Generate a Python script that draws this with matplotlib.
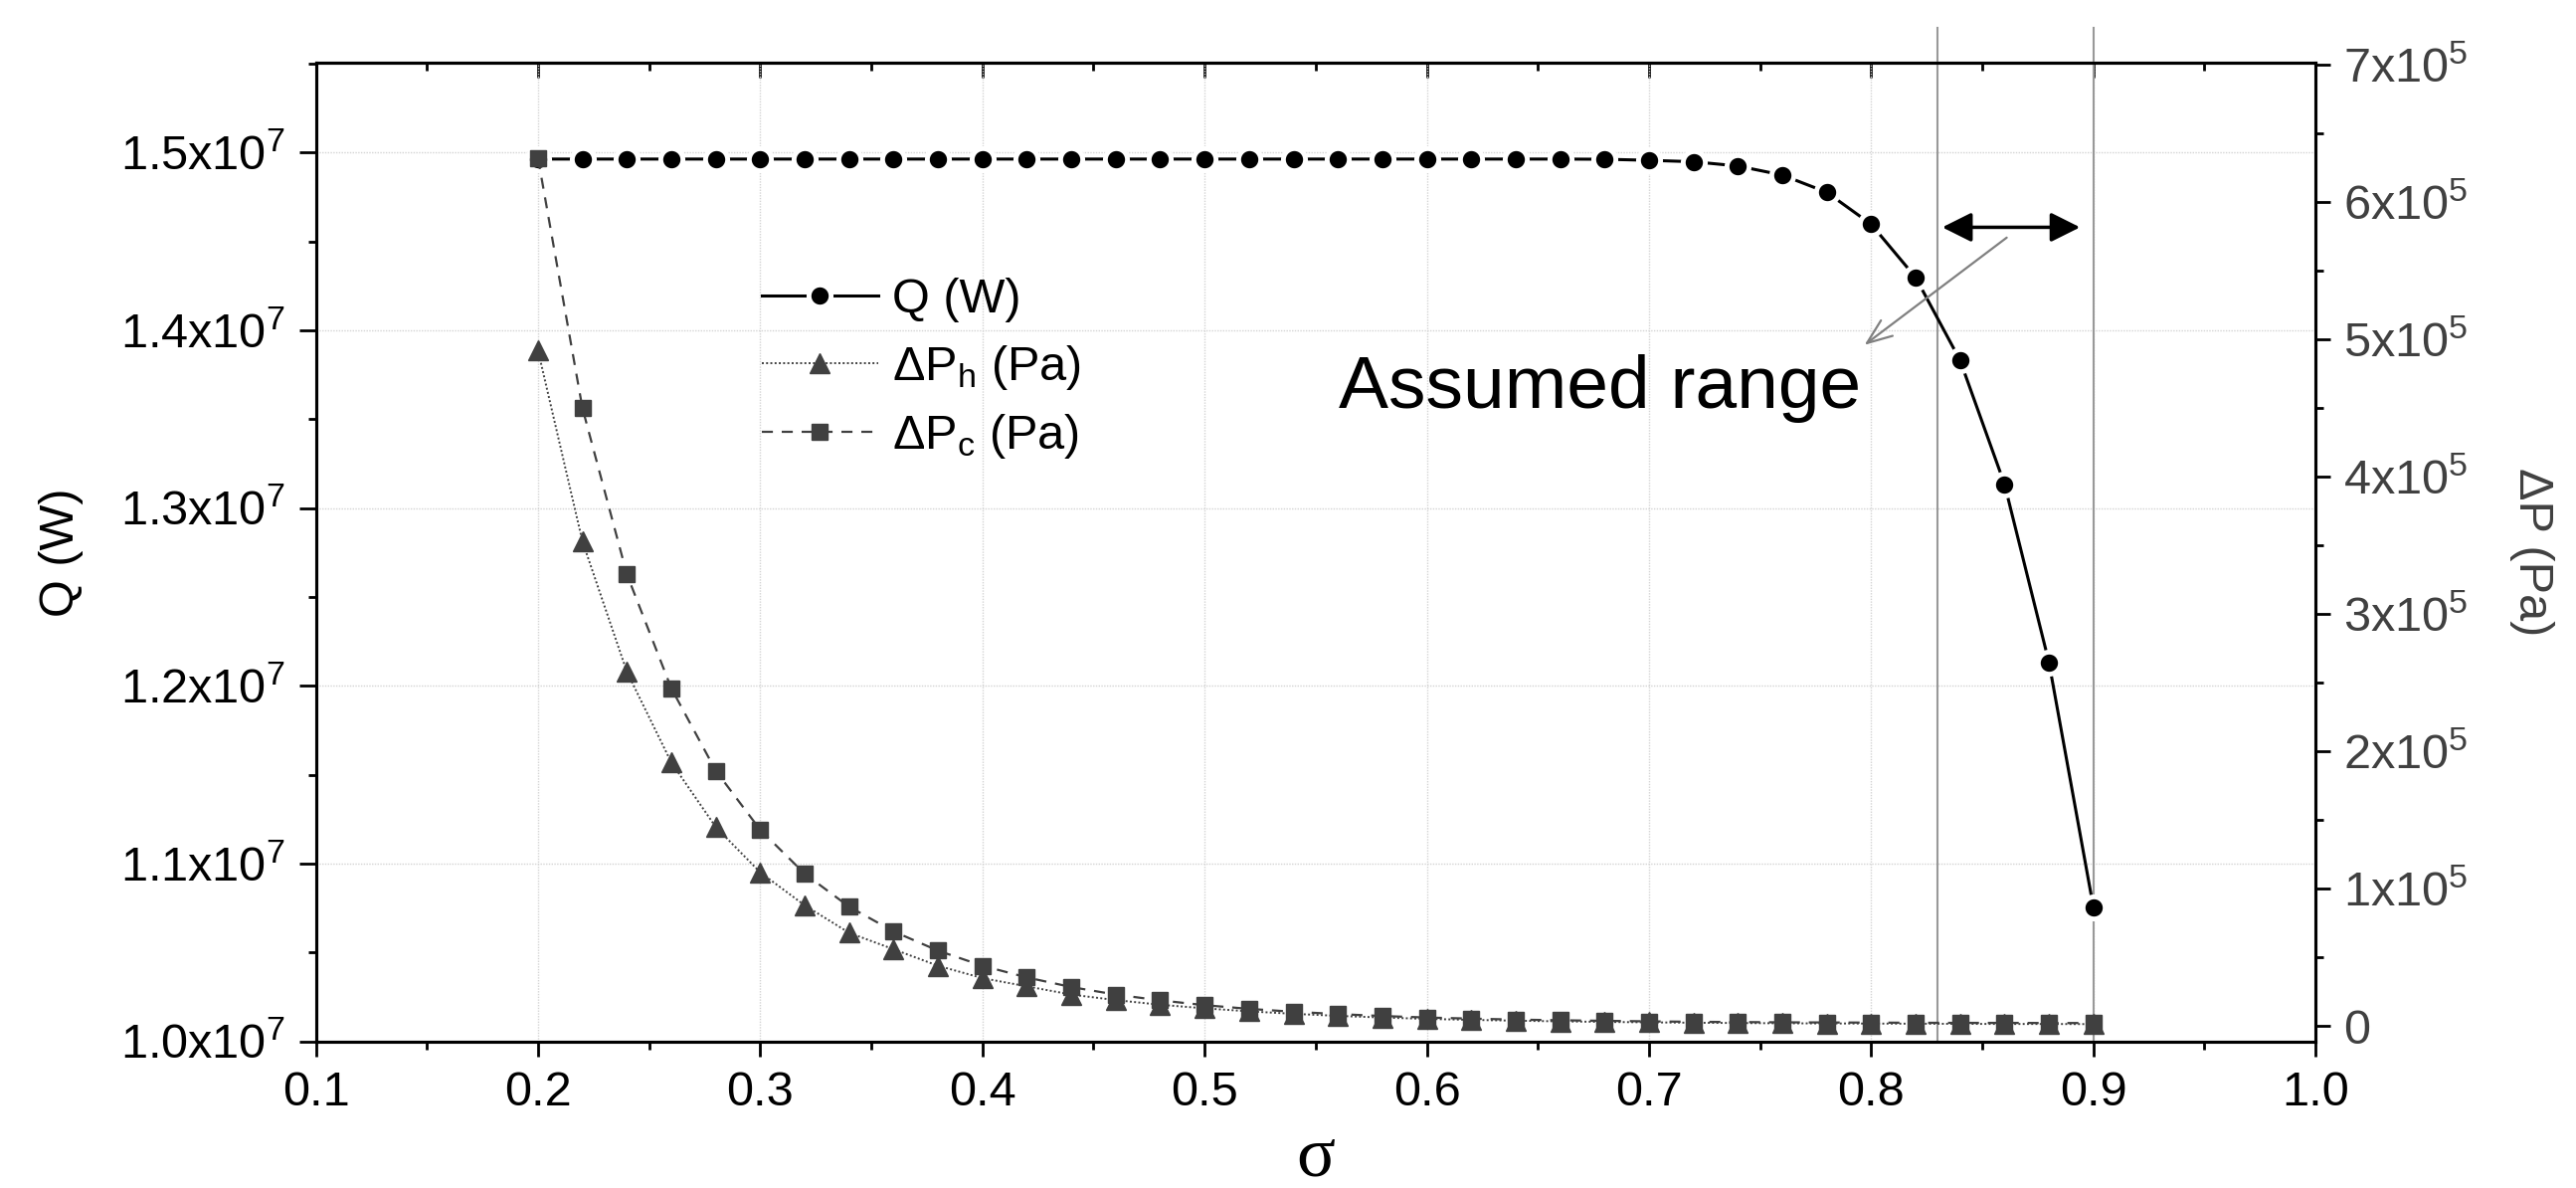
import matplotlib.pyplot as plt
from matplotlib.ticker import MultipleLocator, FuncFormatter

plt.rcParams['font.family'] = ['Liberation Sans', 'DejaVu Sans']
plt.rcParams['mathtext.fontset'] = 'custom'
plt.rcParams['mathtext.rm'] = 'Liberation Sans'
plt.rcParams['mathtext.it'] = 'Liberation Sans:italic'
plt.rcParams['mathtext.bf'] = 'Liberation Sans:bold'

# data
sigma = [0.20, 0.22, 0.24, 0.26, 0.28, 0.30, 0.32, 0.34, 0.36, 0.38,
         0.40, 0.42, 0.44, 0.46, 0.48, 0.50, 0.52, 0.54, 0.56, 0.58,
         0.60, 0.62, 0.64, 0.66, 0.68, 0.70, 0.72, 0.74, 0.76, 0.78,
         0.80, 0.82, 0.84, 0.86, 0.88, 0.90]

q_w = [1.4964e7, 1.4964e7, 1.4964e7, 1.4964e7, 1.4964e7, 1.4964e7, 1.4964e7,
       1.4964e7, 1.4964e7, 1.4964e7, 1.4964e7, 1.4964e7, 1.4964e7, 1.4964e7,
       1.4964e7, 1.4964e7, 1.4964e7, 1.4964e7, 1.4964e7, 1.4964e7, 1.4964e7,
       1.4964e7, 1.4964e7, 1.4964e7, 1.4963e7, 1.4957e7, 1.4949e7, 1.4925e7,
       1.4874e7, 1.4777e7, 1.4597e7, 1.4298e7, 1.3832e7, 1.3135e7, 1.2133e7,
       1.0755e7]

dp_h = [492000, 353000, 258000, 192000, 145000, 112000, 88000, 68000, 56000,
        44000, 35000, 29000, 23000, 19000, 15600, 13000, 10800, 9000, 7500,
        6300, 5300, 4600, 4000, 3500, 3100, 2800, 2500, 2300, 2100, 2000,
        1900, 1800, 1700, 1600, 1600, 1500]

dp_c = [632000, 450000, 329000, 246000, 186000, 143000, 111000, 87000, 69000,
        55000, 44000, 35500, 28500, 23000, 18800, 15300, 12600, 10500, 8800,
        7400, 6300, 5500, 4800, 4300, 3900, 3500, 3200, 3000, 2800, 2700,
        2600, 2500, 2400, 2400, 2300, 2300]

range_lo, range_hi = 0.83, 0.90

grey = '#404040'
fs = 35

fig = plt.figure(figsize=(25.9, 11.94), dpi=100)
ax = fig.add_axes([0.1226, 0.1235, 0.7763, 0.8237])
ax2 = ax.twinx()

# Q on the left axis
lq, = ax.plot(sigma, q_w, color='black', lw=2.2, marker='o', ms=16,
              mfc='black', mec='white', mew=3.5, zorder=5, label='Q (W)')

# pressure drops on the right axis
lh, = ax2.plot(sigma, dp_h, color=grey, lw=1.4, ls=(0, (1, 1.2)), marker='^',
               ms=14, mfc=grey, mec=grey, label='ΔP$_{\\rm h}$ (Pa)')
lc, = ax2.plot(sigma, dp_c, color=grey, lw=1.6, ls=(0, (5, 4)), marker='s',
               ms=12, mfc=grey, mec=grey, label='ΔP$_{\\rm c}$ (Pa)')

ax.set_xlim(0.1, 1.0)
ax.set_ylim(1.0e7, 1.5506e7)
ax2.set_ylim(-11000, 701500)

ax.xaxis.set_major_locator(MultipleLocator(0.1))
ax.xaxis.set_minor_locator(MultipleLocator(0.05))
ax.yaxis.set_major_locator(MultipleLocator(1e6))
ax.yaxis.set_minor_locator(MultipleLocator(5e5))
ax2.yaxis.set_major_locator(MultipleLocator(1e5))
ax2.yaxis.set_minor_locator(MultipleLocator(5e4))

ax.xaxis.set_major_formatter(FuncFormatter(lambda v, p: f'{v:.1f}'))
ax.yaxis.set_major_formatter(FuncFormatter(lambda v, p: f'{v / 1e7:.1f}x10$^{{7}}$'))
ax2.yaxis.set_major_formatter(FuncFormatter(
    lambda v, p: '0' if abs(v) < 1 else f'{int(round(v / 1e5))}x10$^{{5}}$'))

for a in (ax, ax2):
    for s in a.spines.values():
        s.set_linewidth(2.2)

ax.tick_params(axis='x', which='major', direction='out', length=11, width=2,
               labelsize=fs, pad=10)
ax.tick_params(axis='x', which='minor', direction='out', length=6, width=2)
ax.tick_params(axis='y', which='major', direction='out', length=12, width=2,
               labelsize=fs, pad=10)
ax.tick_params(axis='y', which='minor', direction='out', length=6, width=2)
ax2.tick_params(axis='y', which='major', direction='out', length=11, width=2,
                labelsize=fs, pad=9, labelcolor=grey)
ax2.tick_params(axis='y', which='minor', direction='out', length=6, width=2)

# inward ticks on the top spine
top = ax.secondary_xaxis('top')
top.xaxis.set_major_locator(MultipleLocator(0.1))
top.xaxis.set_minor_locator(MultipleLocator(0.05))
top.tick_params(which='major', direction='in', length=11, width=2, labeltop=False)
top.tick_params(which='minor', direction='in', length=6, width=2)
top.spines['top'].set_linewidth(2.2)

ax.grid(True, which='major', color='#d4d4d4', ls=(0, (1, 1)), lw=1)
ax.set_axisbelow(True)

ax.set_xlabel('σ', fontsize=52, family=['Liberation Serif', 'DejaVu Serif'],
              labelpad=8)
ax.set_ylabel('Q (W)', fontsize=fs, labelpad=27)
ax2.set_ylabel('ΔP (Pa)', fontsize=fs, color=grey, rotation=270,
               va='bottom', labelpad=30)

# assumed range markers
for xv in (range_lo, range_hi):
    ax.axvline(xv, ymin=0, ymax=1.036, color='#999999', lw=1.5, clip_on=False,
               zorder=3)

ax.annotate('', xy=(0.894, 1.458e7), xytext=(0.832, 1.458e7),
            arrowprops=dict(arrowstyle='<|-|>,head_length=0.9,head_width=0.45',
                            color='black', lw=2.5, mutation_scale=20,
                            shrinkA=0, shrinkB=0), zorder=6)
ax.annotate('', xy=(0.797, 1.3918e7), xytext=(0.861, 1.4522e7),
            arrowprops=dict(arrowstyle='->,head_length=0.9,head_width=0.35',
                            color='#808080', lw=1.6, mutation_scale=20,
                            shrinkA=0, shrinkB=0), zorder=6)
ax.text(0.5603, 1.3565e7, 'Assumed range', fontsize=54, va='baseline',
        ha='left', color='black', zorder=6)

ax2.legend(handles=[lq, lh, lc], loc='upper left',
           bbox_to_anchor=(0.223, 0.78), frameon=False, fontsize=fs,
           handlelength=2.4, handletextpad=0.3, labelspacing=0.42,
           borderpad=0, borderaxespad=0, numpoints=1)

fig.savefig('out.png', dpi=100)
